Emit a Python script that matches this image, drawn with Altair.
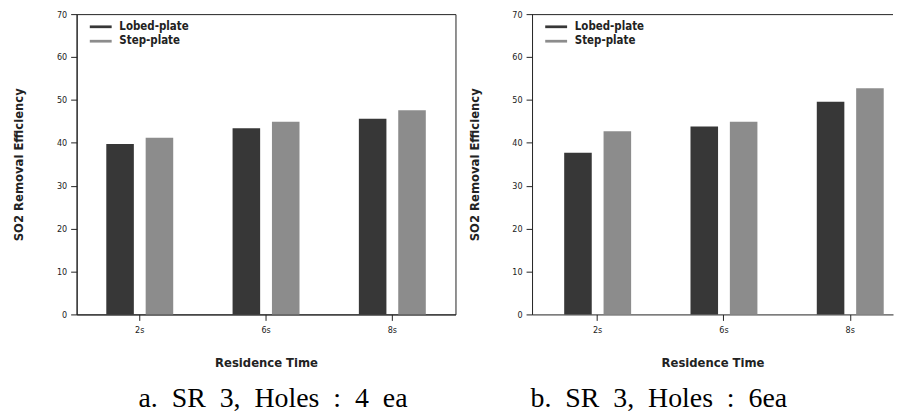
import altair as alt
import pandas as pd

times = ["2s", "6s", "8s"]
series = ["Lobed-plate", "Step-plate"]
colors = ["#373737", "#8c8c8c"]

lobed_a = [39.7, 43.4, 45.6]
step_a = [41.2, 44.9, 47.6]
lobed_b = [37.7, 43.8, 49.6]
step_b = [42.7, 44.9, 52.7]

caption_a = "a.\u00a0 SR\u00a0 3,\u00a0 Holes\u00a0 :\u00a0 4\u00a0 ea"
caption_b = "b.\u00a0 SR\u00a0 3,\u00a0 Holes\u00a0 :\u00a0 6ea"

y_ticks = [0, 10, 20, 30, 40, 50, 60, 70]

FONT = "Liberation Sans Narrow, DejaVu Sans Condensed, sans-serif"
SERIF = "Liberation Serif, Times New Roman, serif"
BAR_SYMBOL = "M-2,-0.25H2V0.25H-2Z"


def panel(lobed, step, caption, width, x_scale, dx, boxed):
    df = pd.DataFrame({
        "time": times * 2,
        "series": [series[0]] * 3 + [series[1]] * 3,
        "value": lobed + step,
    })
    base = alt.Chart(df)
    bars = base.mark_bar().encode(
        x=alt.X("time:N", sort=times, title="Residence Time", scale=x_scale,
                axis=alt.Axis(labelAngle=0)),
        xOffset=alt.XOffset("series:N", sort=series,
                            scale=alt.Scale(paddingInner=0.3, paddingOuter=0)),
        y=alt.Y("value:Q", title="SO2 Removal Efficiency",
                scale=alt.Scale(domain=[0, 70], nice=False, zero=True),
                axis=alt.Axis(values=y_ticks)),
        color=alt.Color("series:N", sort=series,
                        scale=alt.Scale(domain=series, range=colors),
                        legend=alt.Legend(title=None, orient="none", legendX=18.5, legendY=7,
                                          symbolType=BAR_SYMBOL, symbolSize=121,
                                          symbolStrokeWidth=0,
                                          labelFontSize=11.5, labelOffset=13,
                                          labelFont=FONT, labelFontWeight="bold",
                                          labelColor="#222", rowPadding=1.5,
                                          padding=0, symbolOffset=0)),
    )
    layers = [bars]
    if not boxed:
        top = alt.Chart(pd.DataFrame({"v": [70]})).mark_rule(
            color="#222", strokeWidth=1, yOffset=0.5).encode(y=alt.Y("v:Q"))
        layers.append(top)
    ch = alt.layer(*layers).properties(
        width=width, height=302,
        title=alt.TitleParams(text=caption, orient="bottom", anchor="middle", frame="group",
                              font=SERIF, fontSize=28, fontWeight="normal", color="black",
                              offset=16, dx=dx),
        view=alt.ViewBackground(stroke="#222" if boxed else "transparent", strokeWidth=1),
    )
    return ch


left = panel(lobed_a, step_a, caption_a, 381,
             alt.Scale(paddingInner=0.47, paddingOuter=0.235), 7, True)
right = panel(lobed_b, step_b, caption_b, 363,
              alt.Scale(paddingInner=0.47, paddingOuter=0.164, align=0.776), -54, False)

chart = alt.hconcat(left, right, spacing=11).resolve_legend(color="independent").properties(
    padding={"left": 4, "top": 0, "right": 0, "bottom": 0}
).configure(font=FONT).configure_axis(
    domainColor="#222", tickColor="#222", tickSize=6, grid=False,
    labelFont=FONT, labelFontSize=9, labelColor="#222", labelPadding=4,
    titleFont=FONT, titleFontSize=13, titleFontWeight="bold", titleColor="#222",
).configure_axisY(titlePadding=31).configure_axisX(labelPadding=5, titlePadding=22)

chart.save("out.html", embed_options={"renderer": "svg", "actions": False})
